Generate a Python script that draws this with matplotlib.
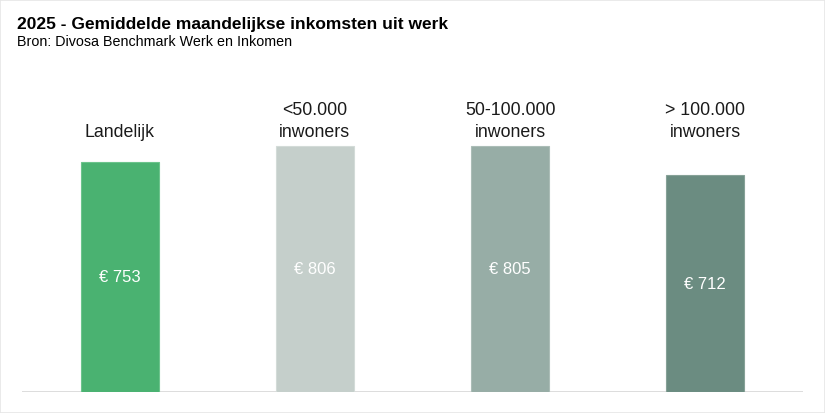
import matplotlib
matplotlib.use("Agg")
import matplotlib.pyplot as plt
from matplotlib.patches import Rectangle

categories = ["Landelijk", "<50.000\ninwoners", "50-100.000\ninwoners", "> 100.000\ninwoners"]
values = [753, 806, 805, 712]
value_labels = ["€ 753", "€ 806", "€ 805", "€ 712"]
colors = ["#4AB271", "#C5CFCB", "#97ADA6", "#6B8C81"]
edge_colors = ["#6CC48C", "#D3DBD8", "#ABBDB7", "#86A197"]

plt.rcParams['font.family'] = ['Liberation Sans', 'DejaVu Sans']

W, H = 825, 414
fig = plt.figure(figsize=(W / 100, H / 100), dpi=100)
fig.patch.set_facecolor("white")

# axes: x from 22 to 803, bottom at 392, top at 80 px
ax = fig.add_axes([22 / W, (H - 392.5) / H, (803 - 22) / W, (392.5 - 80) / H])
ymax = 312.5 / 0.3045
x = list(range(len(categories)))
bars = ax.bar(x, values, width=0.4, color=colors, edgecolor=edge_colors, linewidth=0.8, zorder=2)
ax.set_xlim(-0.5, len(categories) - 0.5)
ax.set_ylim(0, ymax)
ax.axis("off")
ax.axhline(0, color="#D9D9D9", linewidth=2, zorder=1)

for xi, v, lab in zip(x, values, value_labels):
    ax.text(xi, v / 2, lab, ha="center", va="center", color="white", fontsize=12)

label_y = (392.5 - 141) / 312.5 * ymax
for xi, cat in zip(x, categories):
    ax.text(xi, label_y, cat, ha="center", va="bottom", color="#1a1a1a",
            fontsize=12.8, linespacing=1.38)

fig.text(17 / W, 1 - 28.5 / H, "2025 - Gemiddelde maandelijkse inkomsten uit werk",
         fontsize=12.55, fontweight="bold", color="black", va="baseline", ha="left")
fig.text(17 / W, 1 - 46 / H, "Bron: Divosa Benchmark Werk en Inkomen",
         fontsize=10.3, color="black", va="baseline", ha="left")

fig.patches.append(Rectangle((0.0006, 0.001), 0.9988, 0.997, transform=fig.transFigure,
                             fill=False, edgecolor="#E6E6E6", linewidth=1.2))

fig.savefig("out.png", dpi=100, facecolor="white")
